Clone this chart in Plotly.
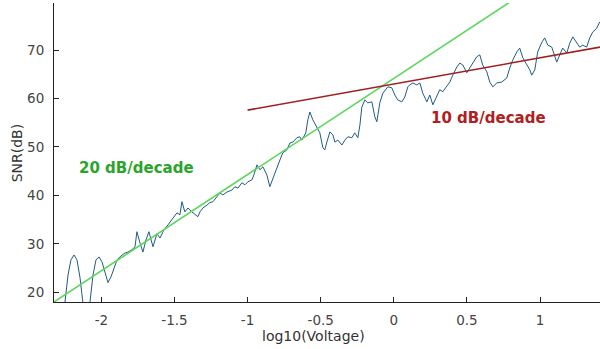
import plotly.graph_objects as go

# measured SNR trace (log10 voltage vs SNR dB)
log_v = [-2.297, -2.249, -2.228, -2.208, -2.187, -2.167, -2.146, -2.126, -2.105, -2.078,
         -2.057, -2.037, -2.016, -1.996, -1.975, -1.955, -1.934, -1.921, -1.893, -1.866,
         -1.839, -1.818, -1.791, -1.770, -1.757, -1.736, -1.716, -1.695, -1.675, -1.647,
         -1.620, -1.599, -1.572, -1.545, -1.511, -1.483, -1.463, -1.449, -1.429, -1.408,
         -1.381, -1.360, -1.340, -1.326, -1.306, -1.278, -1.258, -1.237, -1.210, -1.189,
         -1.169, -1.141, -1.107, -1.087, -1.066, -1.039, -1.018, -0.998, -0.971, -0.957,
         -0.936, -0.916, -0.895, -0.868, -0.848, -0.827, -0.800, -0.779, -0.759, -0.731,
         -0.711, -0.690, -0.663, -0.643, -0.629, -0.602, -0.588, -0.574, -0.554, -0.526,
         -0.506, -0.485, -0.472, -0.458, -0.437, -0.417, -0.403, -0.383, -0.355, -0.335,
         -0.314, -0.287, -0.267, -0.246, -0.232, -0.219, -0.198, -0.178, -0.150, -0.130,
         -0.116, -0.096, -0.075, -0.041, -0.014, 0.007, 0.027, 0.055, 0.075, 0.096,
         0.109, 0.130, 0.157, 0.178, 0.198, 0.226, 0.246, 0.267, 0.294, 0.314,
         0.335, 0.362, 0.383, 0.403, 0.431, 0.451, 0.472, 0.499, 0.519, 0.540,
         0.567, 0.588, 0.608, 0.636, 0.656, 0.677, 0.704, 0.738, 0.772, 0.793,
         0.813, 0.841, 0.861, 0.882, 0.909, 0.930, 0.943, 0.964, 0.984, 1.012,
         1.032, 1.053, 1.080, 1.100, 1.114, 1.135, 1.155, 1.183, 1.203, 1.224,
         1.251, 1.271, 1.292, 1.319, 1.340, 1.360, 1.388, 1.408]
snr_db = [10.2, 18.0, 23.6, 26.7, 27.7, 26.7, 23.0, 18.0, 12.3, 18.0,
          23.6, 26.7, 27.3, 26.3, 24.2, 22.0, 23.2, 24.2, 26.7, 27.5,
          28.1, 28.3, 28.8, 29.4, 32.5, 30.2, 28.3, 30.8, 32.5, 29.4,
          32.1, 31.2, 32.9, 33.9, 35.4, 36.4, 36.0, 38.7, 36.6, 37.4,
          36.6, 36.0, 35.6, 36.6, 37.4, 38.0, 38.5, 38.7, 39.7, 40.5,
          40.1, 40.7, 41.1, 41.8, 41.5, 42.6, 42.2, 42.8, 43.2, 44.2,
          46.3, 45.3, 45.9, 44.2, 41.8, 43.6, 45.9, 47.3, 48.8, 49.4,
          50.8, 51.0, 51.9, 52.1, 51.4, 52.9, 55.6, 57.2, 55.6, 54.1,
          52.9, 49.8, 49.4, 51.0, 53.1, 52.5, 51.0, 51.4, 50.4, 51.4,
          52.1, 51.9, 52.9, 51.9, 54.5, 58.2, 59.7, 59.1, 59.3, 56.2,
          55.2, 59.1, 61.1, 62.4, 62.2, 60.7, 59.7, 59.3, 60.3, 62.4,
          62.8, 63.2, 62.8, 63.2, 61.1, 59.3, 60.7, 58.7, 60.3, 61.8,
          61.4, 62.4, 63.4, 64.8, 66.5, 67.3, 66.9, 65.3, 66.3, 67.5,
          68.6, 69.0, 66.9, 65.5, 63.4, 62.4, 63.2, 63.4, 64.2, 66.3,
          67.9, 69.6, 70.4, 68.4, 66.9, 65.9, 64.8, 65.9, 69.6, 71.6,
          72.5, 71.0, 70.6, 68.6, 67.5, 69.0, 70.4, 69.4, 71.4, 72.7,
          71.4, 70.6, 71.0, 70.6, 72.5, 73.7, 74.5, 75.8]

# reference slope lines
green_x = [-2.35, 0.9]
green_y = [17.5, 82.0]
red_x = [-1.0, 1.41]
red_y = [57.6, 70.6]

x_ticks = [-2, -1.5, -1, -0.5, 0, 0.5, 1]
x_tick_text = ["-2", "-1.5", "-1", "-0.5", "0", "0.5", "1"]
y_ticks = [20, 30, 40, 50, 60, 70]

fig = go.Figure()
fig.add_trace(go.Scatter(x=log_v, y=snr_db, mode="lines",
                         line=dict(color="#1f5b85", width=1), hoverinfo="skip"))
fig.add_trace(go.Scatter(x=green_x, y=green_y, mode="lines",
                         line=dict(color="#5ad65a", width=1.6), hoverinfo="skip"))
fig.add_trace(go.Scatter(x=red_x, y=red_y, mode="lines",
                         line=dict(color="#9e2020", width=1.6), hoverinfo="skip"))

fig.add_annotation(x=-1.757, y=45.7, text="<b>20 dB/decade</b>", showarrow=False,
                   xanchor="center", yanchor="middle",
                   font=dict(family="DejaVu Sans", size=15, color="#2aa52a"))
fig.add_annotation(x=0.649, y=56.0, text="<b>10 dB/decade</b>", showarrow=False,
                   xanchor="center", yanchor="middle",
                   font=dict(family="DejaVu Sans", size=15, color="#b02020"))

fig.add_annotation(xref="paper", yref="paper", x=0.476, y=-0.114,
                   xanchor="center", yanchor="middle",
                   text="log10(Voltage)", showarrow=False,
                   font=dict(family="DejaVu Sans", size=14, color="#333333"))
fig.add_annotation(xref="paper", yref="paper", x=-0.068, y=0.5, textangle=-90,
                   xanchor="center", yanchor="middle",
                   text="SNR(dB)", showarrow=False,
                   font=dict(family="DejaVu Sans", size=14, color="#333333"))

axis_common = dict(showgrid=False, zeroline=False, showline=True, linecolor="#222222",
                   linewidth=1, ticks="inside", ticklen=5, tickcolor="#222222",
                   tickfont=dict(family="DejaVu Sans", size=13.5, color="#444444"))

fig.update_layout(
    width=600, height=349,
    margin=dict(l=54, r=0, t=3, b=47),
    plot_bgcolor="white", paper_bgcolor="white",
    showlegend=False,
    xaxis=dict(range=[-2.324, 1.41], tickvals=x_ticks, ticktext=x_tick_text,
               ticklabelstandoff=6, **axis_common),
    yaxis=dict(range=[18, 79.7], tickvals=y_ticks, ticklabelstandoff=6, **axis_common),
)

fig.write_html("out.html", config={"displayModeBar": False},
               post_script="document.body.style.margin='0';document.body.style.overflow='hidden';")
